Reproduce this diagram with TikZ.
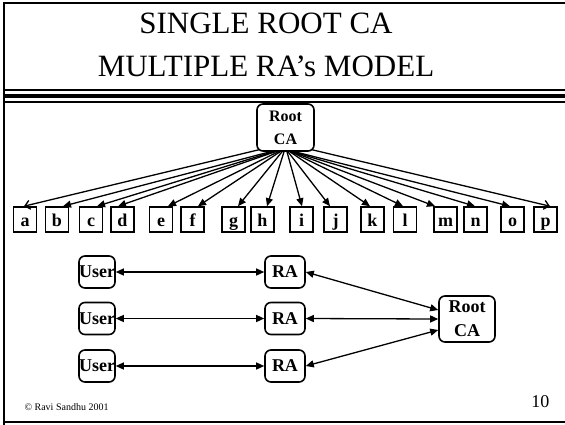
\documentclass[tikz,border=0pt]{standalone}
\usepackage{fontspec}
\setmainfont{Liberation Serif}
\usetikzlibrary{arrows.meta}

\begin{document}
\begin{tikzpicture}[x=1pt,y=-1pt,
  box/.style={draw, line width=1.6pt, rounded corners=6pt, inner sep=0pt,
    font=\fontsize{18}{24}\selectfont\bfseries, align=center},
  letter/.style={draw, line width=1.6pt, minimum width=23pt, minimum height=25pt,
    inner sep=0pt, text height=16pt, text depth=3pt,
    font=\fontsize{18}{20}\selectfont\bfseries},
  fan/.style={line width=1.3pt, -{Triangle[length=8pt,width=7pt]}},
  openfan/.style={line width=1.3pt, -{Straight Barb[length=5pt,width=9pt]}},
  link/.style={line width=1.3pt, {Triangle[length=8pt,width=7pt]}-{Triangle[length=8pt,width=7pt]}},
  titlefont/.style={font=\fontsize{31}{37}\selectfont},
]
\useasboundingbox (0,0) rectangle (565,424);

% slide frame
\draw[line width=2pt] (3.5,430) -- (3.5,2.5) -- (575,2.5);
\draw[line width=2pt] (2.5,422) -- (575,422);

% rules under the title
\draw[line width=2pt] (3,89.5) -- (575,89.5);
\draw[line width=4pt] (3,96) -- (575,96);
\draw[line width=2pt] (3,101.5) -- (575,101.5);

% title
\node[titlefont, anchor=base] (t1) at (266,33) {SINGLE ROOT CA};
\node[titlefont, anchor=base] (t2) at (266,76) {MULTIPLE RA’s MODEL};

% root CA with sixteen subordinate CAs
\node[box, font=\fontsize{16}{23}\selectfont\bfseries,
      minimum width=57pt, minimum height=47pt] (root) at (285.5,127.5) {Root\\CA};

\foreach \n/\x in {a/25,b/57,c/91,d/122.5,e/161,f/192.5,g/233.5,h/262.5,
                   i/301.5,j/335.5,k/372.5,l/405,m/445.5,n/475.5,o/512.5,p/545.5}
  \node[letter] (\n) at (\x,219.5) {\n};

\draw[openfan] ([xshift=2.5pt,yshift=2pt]root.south west) -- ([xshift=-1pt]a.north);
\foreach \n/\s/\t in {b/-15.5/6, c/-12.5/6, d/-10.5/-4.5, e/-7.5/7, f/-5.5/5.5,
                      g/-3.5/4.5, h/-1.5/4.5, i/1.5/0.5, j/2.5/-5.5, k/4.5/-2.5,
                      l/5.5/-2, m/6.5/-10.5, n/7.5/-0.5, o/9.5/-2.5}
  \draw[fan] ([xshift=\s pt]root.south) -- ([xshift=\t pt]\n.north);
\draw[openfan] ([xshift=-2.5pt,yshift=2pt]root.south east) -- ([xshift=4.5pt]p.north);

% users, RAs and the root CA
\foreach \i/\y in {1/272,2/318.5,3/366} {
  \node[box, minimum width=36pt, minimum height=32pt] (u\i) at (97,\y) {User};
  \node[box, minimum width=40pt, minimum height=32pt] (r\i) at (285,\y) {RA};
}
\node[box, minimum width=56pt, minimum height=46pt] (root2) at (467,319) {Root\\CA};

\foreach \i in {1,2,3}
  \draw[link] (u\i.east) -- (r\i.west);
\draw[link] (r1.east) -- ([yshift=9pt]root2.west);
\draw[link] (r2.east) -- (root2.west);
\draw[link] (r3.east) -- ([yshift=-11pt]root2.west);

% footer
\node[font=\fontsize{10}{12}\selectfont, anchor=base west] (copy) at (21,410) {© Ravi Sandhu 2001};
\node[font=\fontsize{18}{20}\selectfont, anchor=base east] (page) at (553,407) {10};
\end{tikzpicture}
\end{document}
